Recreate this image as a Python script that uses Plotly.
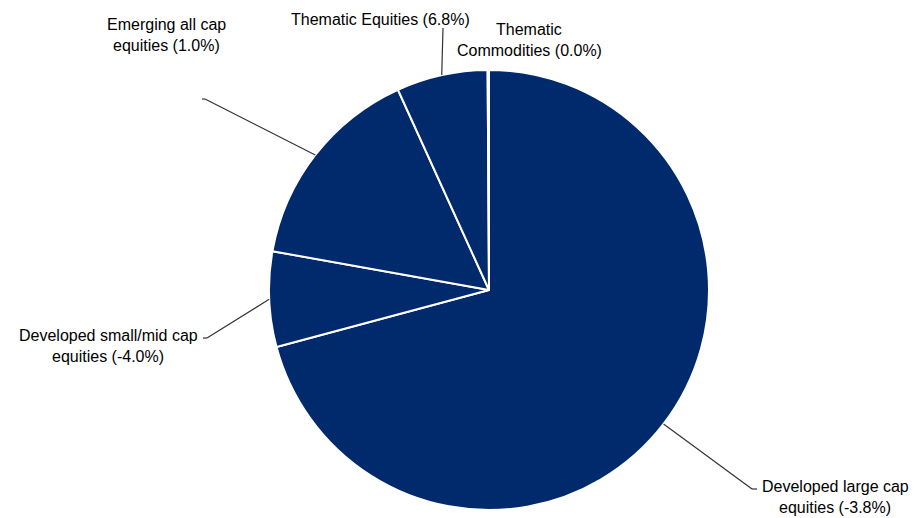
import math
import plotly.graph_objects as go

# Allocation shares by sleeve (clockwise from 12 o'clock)
categories = [
    "Developed large cap equities",
    "Developed small/mid cap equities",
    "Emerging all cap equities",
    "Thematic Equities",
    "Thematic Commodities",
]
weights = [70.9, 7.0, 15.4, 6.7, 0.1]
returns = ["-3.8%", "-4.0%", "1.0%", "6.8%", "0.0%"]
label_lines = [
    ["Developed large cap", "equities (-3.8%)"],
    ["Developed small/mid cap", "equities (-4.0%)"],
    ["Emerging all cap", "equities (1.0%)"],
    ["Thematic Equities (6.8%)"],
    ["Thematic", "Commodities (0.0%)"],
]

W, H = 920, 518
CX, CY, R = 489, 290, 220  # pie centre and radius in pixels
NAVY = "#002A6C"
FONT = dict(family="Liberation Sans, Arial, sans-serif", size=16, color="#000000")

# Label placement (pixel centre of first text line) and leader elbows
label_pos = [(835, 486), (108, 335), (166, 24), (380, 19), (529, 29)]
leader_elbows = [
    [(752, 489), (757, 489)],
    [(207, 338), (203, 338)],
    [(205, 99), (202, 99)],
    [(443, 28)],
    None,
]
LINE_GAP = 21


def px(x, y):
    return x / W, 1 - y / H


fig = go.Figure(
    go.Pie(
        labels=categories,
        values=weights,
        sort=False,
        direction="clockwise",
        rotation=0,
        textinfo="none",
        hoverinfo="label+percent",
        marker=dict(colors=[NAVY] * len(weights), line=dict(color="#FFFFFF", width=2)),
        domain=dict(
            x=[(CX - R) / W, (CX + R) / W],
            y=[1 - (CY + R) / H, 1 - (CY - R) / H],
        ),
        showlegend=False,
    )
)

# Leader lines start at the middle of each slice's outer arc
total = sum(weights)
shapes = []
cum = 0.0
for w, elbows in zip(weights, leader_elbows):
    mid = (cum + w / 2) / total * 2 * math.pi
    cum += w
    if not elbows:
        continue
    pts = [(CX + R * math.sin(mid), CY - R * math.cos(mid))] + elbows
    for (x0, y0), (x1, y1) in zip(pts[:-1], pts[1:]):
        a0, b0 = px(x0, y0)
        a1, b1 = px(x1, y1)
        shapes.append(
            dict(type="line", xref="paper", yref="paper", x0=a0, y0=b0, x1=a1, y1=b1,
                 line=dict(color="#333333", width=1.2))
        )

annotations = []
for lines, (lx, ly) in zip(label_lines, label_pos):
    for i, t in enumerate(lines):
        ax, ay = px(lx, ly + i * LINE_GAP)
        annotations.append(
            dict(text=t, x=ax, y=ay, xref="paper", yref="paper", showarrow=False,
                 xanchor="center", yanchor="middle", font=FONT)
        )

fig.update_layout(
    width=W,
    height=H,
    margin=dict(l=0, r=0, t=0, b=0),
    paper_bgcolor="#FFFFFF",
    plot_bgcolor="#FFFFFF",
    shapes=shapes,
    annotations=annotations,
)

fig.write_html("out.html")
